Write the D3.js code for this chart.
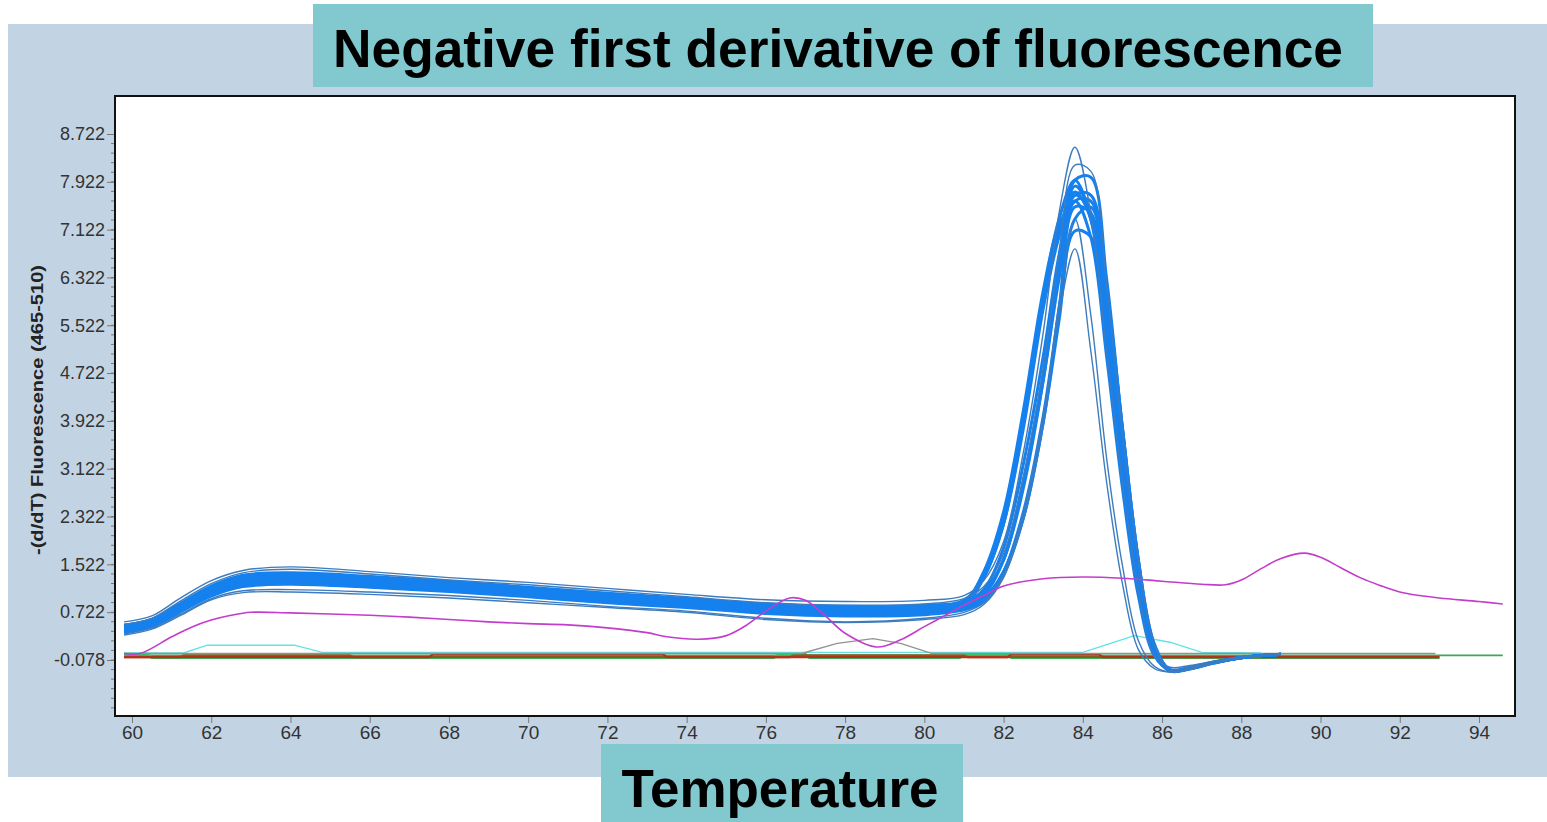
<!DOCTYPE html>
<meta charset="utf-8">
<script src="https://d3js.org/d3.v7.min.js"></script>
<style>
  body { margin: 0; background: #fff; }
  text { font-family: "Liberation Sans", Arial, sans-serif; }
</style>
<div id="chart"></div>
<script>
// temperature grid shared by the sample curves
var temps = [59.8, 60.5, 61.2, 62, 62.8, 64, 66, 68, 70, 72, 74, 76, 78, 80, 81, 81.5, 82, 82.5, 83, 83.4, 83.8, 84.2, 84.6, 85, 85.4, 85.8, 86.2, 86.7, 87.3, 88, 89];

// blue sample curves
var sampleA = [0.56, 0.66, 0.95, 1.25, 1.42, 1.48, 1.40, 1.30, 1.22, 1.12, 1.02, 0.93, 0.90, 0.92, 1.00, 1.25, 1.90, 3.40, 5.40, 7.40, 8.50, 7.40, 5.10, 2.90, 1.10, 0.00, -0.20, -0.17, -0.10, -0.03, 0.02];
var sampleB = [0.52, 0.62, 0.90, 1.20, 1.38, 1.44, 1.36, 1.26, 1.18, 1.08, 0.98, 0.88, 0.84, 0.86, 0.95, 1.15, 1.70, 3.00, 4.80, 6.70, 8.20, 8.10, 6.20, 3.70, 1.60, 0.20, -0.25, -0.20, -0.12, -0.04, 0.02];
var sampleC = [0.50, 0.60, 0.86, 1.16, 1.34, 1.38, 1.32, 1.24, 1.14, 1.04, 0.95, 0.86, 0.82, 0.84, 0.92, 1.35, 2.30, 4.00, 6.00, 7.30, 7.95, 7.30, 5.40, 3.10, 1.30, 0.08, -0.24, -0.20, -0.11, -0.03, 0.02];
var sampleD = [0.48, 0.58, 0.84, 1.13, 1.30, 1.34, 1.29, 1.20, 1.10, 1.00, 0.92, 0.82, 0.78, 0.80, 0.88, 1.10, 1.80, 3.20, 5.00, 6.70, 7.85, 7.40, 5.40, 3.10, 1.20, 0.05, -0.25, -0.21, -0.12, -0.04, 0.02];
var sampleE = [0.46, 0.56, 0.82, 1.10, 1.27, 1.31, 1.26, 1.17, 1.08, 0.98, 0.89, 0.80, 0.76, 0.76, 0.84, 1.30, 2.20, 3.90, 5.90, 7.10, 7.75, 7.30, 5.30, 3.00, 1.20, 0.05, -0.26, -0.22, -0.12, -0.04, 0.02];
var sampleF = [0.44, 0.54, 0.80, 1.08, 1.24, 1.28, 1.23, 1.14, 1.05, 0.95, 0.87, 0.78, 0.74, 0.74, 0.82, 1.00, 1.60, 2.90, 4.60, 6.30, 7.60, 7.60, 6.10, 3.80, 1.60, 0.18, -0.25, -0.22, -0.13, -0.04, 0.02];
var sampleG = [0.42, 0.52, 0.77, 1.05, 1.21, 1.25, 1.20, 1.12, 1.02, 0.93, 0.85, 0.75, 0.72, 0.72, 0.80, 0.95, 1.40, 2.40, 4.00, 5.80, 7.50, 7.40, 5.70, 3.40, 1.40, 0.12, -0.26, -0.23, -0.13, -0.04, 0.02];
var sampleH = [0.40, 0.50, 0.75, 1.02, 1.18, 1.22, 1.17, 1.09, 1.00, 0.90, 0.82, 0.73, 0.70, 0.70, 0.78, 0.95, 1.40, 2.30, 3.90, 5.60, 7.30, 7.50, 6.10, 3.80, 1.60, 0.15, -0.25, -0.22, -0.12, -0.04, 0.02];
var sampleI = [0.38, 0.48, 0.72, 0.99, 1.15, 1.19, 1.14, 1.07, 0.98, 0.88, 0.80, 0.70, 0.66, 0.68, 0.76, 0.90, 1.35, 2.30, 3.90, 5.70, 7.10, 7.00, 5.30, 3.10, 1.20, 0.05, -0.26, -0.22, -0.12, -0.04, 0.02];
var sampleJ = [0.36, 0.46, 0.68, 0.95, 1.08, 1.10, 1.06, 1.00, 0.92, 0.82, 0.74, 0.62, 0.56, 0.62, 0.72, 0.88, 1.35, 2.40, 4.00, 5.70, 6.80, 5.10, 2.90, 1.20, 0.10, -0.22, -0.28, -0.23, -0.13, -0.04, 0.02];
var sampleK = [0.34, 0.44, 0.66, 0.93, 1.05, 1.06, 1.02, 0.96, 0.88, 0.80, 0.72, 0.60, 0.55, 0.60, 0.68, 0.85, 1.30, 2.30, 3.90, 5.90, 7.30, 5.70, 3.30, 1.50, 0.25, -0.18, -0.28, -0.24, -0.13, -0.04, 0.02];
var sampleL = [0.50, 0.60, 0.85, 1.14, 1.32, 1.36, 1.30, 1.22, 1.12, 1.02, 0.94, 0.84, 0.80, 0.82, 0.90, 1.30, 2.20, 3.80, 5.80, 7.00, 7.70, 7.40, 5.60, 3.30, 1.30, 0.08, -0.25, -0.21, -0.12, -0.04, 0.02];
var sampleM = [0.47, 0.57, 0.83, 1.12, 1.29, 1.33, 1.27, 1.19, 1.09, 0.99, 0.91, 0.81, 0.77, 0.78, 0.86, 1.06, 1.60, 2.80, 4.60, 6.50, 7.95, 8.00, 6.30, 3.80, 1.60, 0.20, -0.24, -0.22, -0.12, -0.04, 0.02];
var sampleN = [0.49, 0.59, 0.85, 1.15, 1.33, 1.37, 1.31, 1.21, 1.11, 1.01, 0.93, 0.83, 0.79, 0.80, 0.90, 1.40, 2.40, 4.10, 6.10, 7.20, 7.60, 7.00, 5.00, 2.80, 1.00, 0.00, -0.25, -0.21, -0.12, -0.04, 0.02];
var sampleO = [0.45, 0.55, 0.81, 1.09, 1.26, 1.30, 1.25, 1.16, 1.06, 0.96, 0.88, 0.79, 0.75, 0.75, 0.83, 1.05, 1.60, 2.90, 4.70, 6.40, 7.70, 7.70, 6.00, 3.60, 1.50, 0.15, -0.25, -0.22, -0.12, -0.04, 0.02];

var blueBulk = [sampleC, sampleD, sampleE, sampleF, sampleG, sampleH, sampleI, sampleL, sampleM, sampleN, sampleO];
var blueEdge = [sampleA, sampleB, sampleJ, sampleK];

// magenta sample (its own temperature points)
var magentaT = [59.8, 60.2, 61, 61.5, 62, 62.5, 63, 64, 66, 67, 68, 69, 70, 71, 72, 73, 73.5, 74.3, 75, 75.5, 76, 76.6, 77, 77.5, 78, 78.8, 79.4, 80, 80.5, 81, 81.5, 82, 83, 84, 85, 86, 87, 87.6, 88, 88.5, 89, 89.6, 90, 90.5, 91, 91.5, 92, 92.5, 93, 94, 94.6];
var magentaV = [0.03, 0.03, 0.31, 0.47, 0.59, 0.67, 0.72, 0.71, 0.67, 0.64, 0.60, 0.56, 0.53, 0.51, 0.46, 0.38, 0.31, 0.27, 0.33, 0.50, 0.74, 0.96, 0.92, 0.66, 0.37, 0.14, 0.26, 0.48, 0.66, 0.84, 1.00, 1.16, 1.28, 1.31, 1.29, 1.24, 1.19, 1.18, 1.26, 1.45, 1.62, 1.71, 1.64, 1.47, 1.30, 1.17, 1.06, 1.00, 0.96, 0.90, 0.86];

// near-zero controls
var greenT = [59.8, 94.6];
var greenV = [0.0, 0.0];
var brownT = [59.8, 61.2, 61.3, 65.5, 65.6, 76.6, 76.7, 81.0, 81.1, 93.0];
var brownV = [-0.03, -0.03, 0.0, 0.0, -0.03, -0.03, 0.0, 0.0, -0.03, -0.03];
var redT = [59.8, 67.5, 67.6, 73.4, 73.5, 82.1, 82.2, 84.4, 84.5, 93.0];
var redV = [-0.03, -0.03, 0.02, 0.02, -0.03, -0.03, 0.02, 0.02, -0.03, -0.03];
var brightGreenT = [59.8, 60.4, 60.5, 76.2, 76.3, 77.0, 77.1, 80.9, 81.0, 82.1, 82.2, 93.0];
var brightGreenV = [0.02, 0.02, -0.04, -0.04, 0.02, 0.02, -0.04, -0.04, 0.02, 0.02, -0.04, -0.04];
var cyanT = [59.8, 61.3, 61.9, 64.1, 64.8, 84.0, 84.6, 85.3, 86.2, 87.0, 88.5];
var cyanV = [0.04, 0.04, 0.17, 0.17, 0.05, 0.05, 0.18, 0.33, 0.22, 0.05, 0.04];
var grayT = [59.8, 76.9, 77.8, 78.7, 79.4, 80.2, 92.9];
var grayV = [0.03, 0.03, 0.20, 0.28, 0.20, 0.03, 0.03];

var yTicks = [-0.078, 0.722, 1.522, 2.322, 3.122, 3.922, 4.722, 5.522, 6.322, 7.122, 7.922, 8.722];
var xTicks = [60, 62, 64, 66, 68, 70, 72, 74, 76, 78, 80, 82, 84, 86, 88, 90, 92, 94];

var W = 1547, H = 822;
var box = {left: 115, right: 1515, top: 96, bottom: 716};

var svg = d3.select("#chart").append("svg")
    .attr("width", W)
    .attr("height", H);

// light blue panel behind the chart
svg.append("rect")
    .attr("x", 8).attr("y", 24)
    .attr("width", W - 8).attr("height", 753)
    .attr("fill", "#c2d4e4");

var x = d3.scaleLinear().domain([60, 94]).range([132, 1479]);
var y = d3.scaleLinear().domain([-0.078, 8.722]).range([660, 134]);

// plot area
svg.append("rect")
    .attr("x", box.left).attr("y", box.top)
    .attr("width", box.right - box.left).attr("height", box.bottom - box.top)
    .attr("fill", "#fff");

svg.append("clipPath").attr("id", "clip")
  .append("rect")
    .attr("x", box.left).attr("y", box.top)
    .attr("width", box.right - box.left).attr("height", box.bottom - box.top);

// y axis: labelled ticks plus 4 minor ticks between each
var minor = d3.range(-6, 55).map(function(i) { return -0.078 + i * 0.16; })
    .filter(function(d) { return y(d) > box.top + 2 && y(d) < box.bottom - 2; });

svg.append("g").selectAll("line")
  .data(minor)
  .enter().append("line")
    .attr("x1", box.left - 4).attr("x2", box.left)
    .attr("y1", function(d) { return y(d); })
    .attr("y2", function(d) { return y(d); })
    .attr("stroke", "#777").attr("stroke-width", 1);

var yAxis = svg.append("g")
    .attr("transform", "translate(" + box.left + ",0)")
    .call(d3.axisLeft(y).tickValues(yTicks).tickFormat(function(d) { return d.toFixed(3); }).tickSize(8).tickPadding(2));
yAxis.select(".domain").remove();
yAxis.selectAll(".tick line").attr("stroke", "#777");
yAxis.selectAll(".tick text")
    .attr("fill", "#333")
    .style("font-size", "18px")
    .style("font-family", "'Liberation Sans', Arial, sans-serif");

var xAxis = svg.append("g")
    .attr("transform", "translate(0," + box.bottom + ")")
    .call(d3.axisBottom(x).tickValues(xTicks).tickFormat(d3.format("d")).tickSize(7).tickPadding(3));
xAxis.select(".domain").remove();
xAxis.selectAll(".tick line").attr("stroke", "#777");
xAxis.selectAll(".tick text")
    .attr("fill", "#333")
    .style("font-size", "19px")
    .style("font-family", "'Liberation Sans', Arial, sans-serif");

// y axis title
svg.append("text")
    .attr("transform", "translate(43,410)rotate(-90)")
    .attr("text-anchor", "middle")
    .attr("textLength", 290)
    .attr("lengthAdjust", "spacingAndGlyphs")
    .style("font-size", "17px")
    .style("font-weight", "bold")
    .attr("fill", "#222")
    .text("-(d/dT) Fluorescence (465-510)");

var plot = svg.append("g").attr("clip-path", "url(#clip)");

function lineOf(ts, curve) {
  return d3.line()
    .x(function(d, i) { return x(ts[i]); })
    .y(function(d) { return y(d); })
    .curve(curve);
}

var controls = [
  {t: greenT, v: greenV, c: "#3aa85a", w: 1.6},
  {t: brightGreenT, v: brightGreenV, c: "#1fd063", w: 2.6},
  {t: brownT, v: brownV, c: "#8a5a1e", w: 2.2},
  {t: redT, v: redV, c: "#b2321e", w: 2.4},
  {t: cyanT, v: cyanV, c: "#5fe3e3", w: 1.4},
  {t: grayT, v: grayV, c: "#8f948f", w: 1.4}
];
controls.forEach(function(s) {
  plot.append("path")
    .datum(s.v)
    .attr("d", lineOf(s.t, d3.curveLinear))
    .attr("fill", "none")
    .attr("stroke", s.c)
    .attr("stroke-width", s.w);
});

var smooth = lineOf(temps, d3.curveCatmullRom.alpha(0.5));

plot.selectAll(".bulk")
  .data(blueBulk)
  .enter().append("path")
    .attr("class", "bulk")
    .attr("d", smooth)
    .attr("fill", "none")
    .attr("stroke", "#1581ef")
    .attr("stroke-width", 3);

plot.selectAll(".edge")
  .data(blueEdge)
  .enter().append("path")
    .attr("class", "edge")
    .attr("d", smooth)
    .attr("fill", "none")
    .attr("stroke", "#3d7cbf")
    .attr("stroke-width", 1.4);

plot.append("path")
    .datum(magentaV)
    .attr("d", lineOf(magentaT, d3.curveCatmullRom.alpha(0.5)))
    .attr("fill", "none")
    .attr("stroke", "#c43ccb")
    .attr("stroke-width", 1.6);

// frame
svg.append("rect")
    .attr("x", box.left).attr("y", box.top)
    .attr("width", box.right - box.left).attr("height", box.bottom - box.top)
    .attr("fill", "none")
    .attr("stroke", "#111")
    .attr("stroke-width", 2);

// title boxes
svg.append("rect")
    .attr("x", 313).attr("y", 4).attr("width", 1060).attr("height", 83)
    .attr("fill", "#81c9cf");
svg.append("text")
    .attr("x", 838).attr("y", 67)
    .attr("text-anchor", "middle")
    .attr("textLength", 1010)
    .attr("lengthAdjust", "spacingAndGlyphs")
    .style("font-size", "54px")
    .style("font-weight", "bold")
    .attr("fill", "#000")
    .text("Negative first derivative of fluorescence");

svg.append("rect")
    .attr("x", 601).attr("y", 744).attr("width", 362).attr("height", 78)
    .attr("fill", "#81c9cf");
svg.append("text")
    .attr("x", 780).attr("y", 807)
    .attr("text-anchor", "middle")
    .attr("textLength", 317)
    .attr("lengthAdjust", "spacingAndGlyphs")
    .style("font-size", "54px")
    .style("font-weight", "bold")
    .attr("fill", "#000")
    .text("Temperature");
</script>
